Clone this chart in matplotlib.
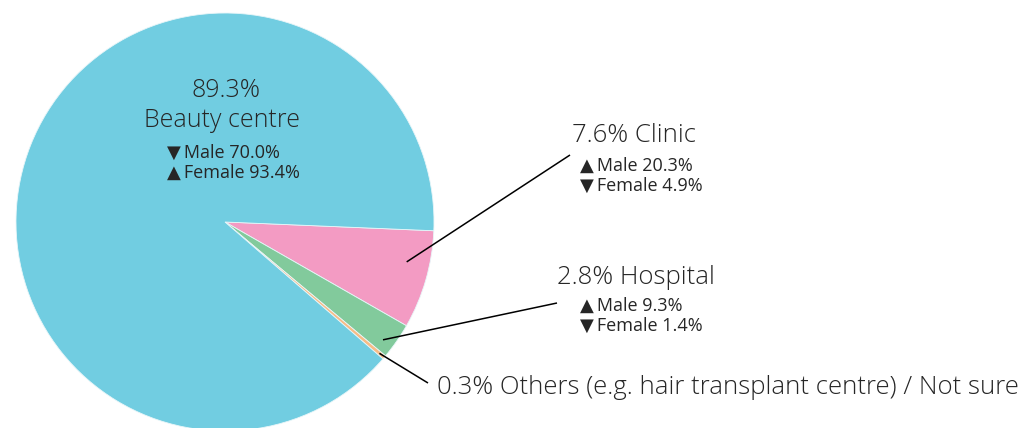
import matplotlib
matplotlib.use("Agg")
import matplotlib.pyplot as plt
import numpy as np

categories = ["Clinic", "Hospital", "Others (e.g. hair transplant centre) / Not sure", "Beauty centre"]
values = [7.6, 2.8, 0.3, 89.3]
colors = ["#F39BC3", "#82CA9C", "#F8BC86", "#71CDE1"]
male = {"Beauty centre": ("▼", 70.0), "Clinic": ("▲", 20.3), "Hospital": ("▲", 9.3)}
female = {"Beauty centre": ("▲", 93.4), "Clinic": ("▼", 4.9), "Hospital": ("▼", 1.4)}

W, H = 1027, 428
fig = plt.figure(figsize=(W / 100, H / 100), dpi=100)
ax = fig.add_axes([0, 0, 1, 1])

cx, cy, R = 225, H - 222, 209
wedges, _ = ax.pie(values, colors=colors, startangle=-2.4, counterclock=False,
                   center=(cx, cy), radius=R, frame=True,
                   wedgeprops=dict(linewidth=0.6, edgecolor="#e8f6f9"))
ax.set_xlim(0, W)
ax.set_ylim(0, H)
ax.set_aspect("equal")
ax.axis("off")

fam = ["Open Sans", "DejaVu Sans"]
tc = "#262626"
big = 18.5
big_in = 18
small = 13

def py(y):
    return H - y

def sub(x, y, sym, label, v):
    ax.text(x, py(y), f"{sym}\u2009{label} {v:.1f}%", ha="left", va="center",
            fontsize=small, family=fam, color=tc)

# Beauty centre label
ax.text(226, py(90), f"{values[3]:.1f}%", ha="center", va="center", fontsize=big_in, family=fam, color=tc, fontweight="light")
ax.text(222, py(120), categories[3], ha="center", va="center", fontsize=big_in, family=fam, color=tc, fontweight="light")
s, v = male["Beauty centre"]
sub(167, 153, s, "Male", v)
s, v = female["Beauty centre"]
sub(167, 173, s, "Female", v)

def leader(w, t, f, end):
    th = np.deg2rad(w.theta1 + t * (w.theta2 - w.theta1))
    x0 = cx + R * f * np.cos(th)
    y0 = cy + R * f * np.sin(th)
    ax.plot([x0, end[0]], [y0, py(end[1])], color="black", lw=1.1, solid_capstyle="butt")

# Clinic
leader(wedges[0], 0.635, 0.89, (570, 155))
ax.text(572, py(135), f"{values[0]:.1f}% {categories[0]}", ha="left", va="center", fontsize=big, family=fam, color=tc, fontweight="light")
s, v = male["Clinic"]
sub(580, 166, s, "Male", v)
s, v = female["Clinic"]
sub(580, 186, s, "Female", v)

# Hospital
leader(wedges[1], 0.31, 0.943, (557, 303))
ax.text(557, py(277), f"{values[1]:.1f}% {categories[1]}", ha="left", va="center", fontsize=big, family=fam, color=tc, fontweight="light")
s, v = male["Hospital"]
sub(580, 306, s, "Male", v)
s, v = female["Hospital"]
sub(580, 326, s, "Female", v)

# Others
leader(wedges[2], 0.5, 0.97, (428, 383))
ax.text(437, py(388), f"{values[2]:.1f}% {categories[2]}", ha="left", va="center", fontsize=big, family=fam, color=tc, fontweight="light")

fig.savefig("out.png", dpi=100, facecolor="white")
